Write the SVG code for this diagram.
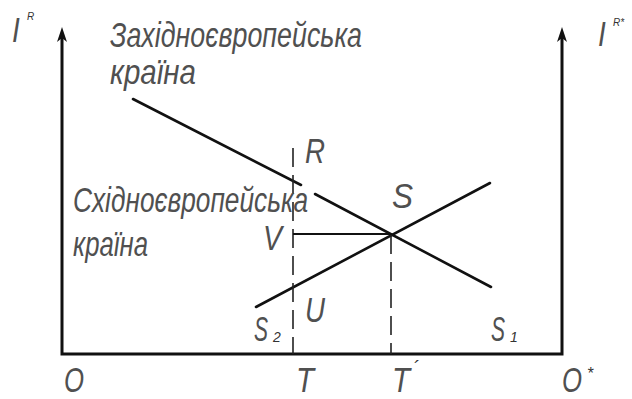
<svg xmlns="http://www.w3.org/2000/svg" width="632" height="399" viewBox="0 0 632 399">
<style>
.t{font-family:"Liberation Sans",Arial,sans-serif;font-style:italic;fill:#505050;font-size:28px;}
.s{font-family:"Liberation Sans",Arial,sans-serif;font-style:italic;fill:#333;}
.ax{stroke:#111;stroke-width:3;fill:none;}
.ln{stroke:#111;stroke-width:2.6;fill:none;stroke-linecap:round;}
.ds{stroke:#222;stroke-width:1.6;fill:none;stroke-dasharray:19 8;}
</style>
<rect width="632" height="399" fill="#fff"/>
<g id="axes">
<path class="ax" d="M62,355 V34 M562,355 V34 M60.5,354 H563.5"/>
<path d="M62,27 L67,42 L62,38 L57,42 Z" fill="#111"/>
<path d="M562,27 L567,42 L562,38 L557,42 Z" fill="#111"/>
</g>
<g id="connectors">
<path class="ln" d="M133,99 L301,185 M315,194 L491,287"/>
<path class="ln" d="M256,307 L490,183"/>
<path class="ds" d="M293,148 V354"/>
<path class="ds" d="M391,235 V354"/>
<path stroke="#111" stroke-width="2" d="M293,234 H390"/>
</g>
<g id="west-label">
<text class="t" transform="translate(110,47) scale(1,1.22)" textLength="252" lengthAdjust="spacingAndGlyphs">Західноєвропейська</text>
<text class="t" transform="translate(110,84) scale(1,1.22)" textLength="86" lengthAdjust="spacingAndGlyphs">країна</text>
</g>
<g id="east-label">
<text class="t" transform="translate(73,212) scale(1,1.22)" textLength="235" lengthAdjust="spacingAndGlyphs">Східноєвропейська</text>
<text class="t" transform="translate(73,256) scale(1,1.22)" textLength="75" lengthAdjust="spacingAndGlyphs">країна</text>
</g>
<g id="points">
<text class="t" transform="translate(305,163) scale(1,1.25)" textLength="20" lengthAdjust="spacingAndGlyphs">R</text>
<text class="t" transform="translate(392,208) scale(1,1.25)" textLength="21" lengthAdjust="spacingAndGlyphs">S</text>
<text class="t" transform="translate(263,250) scale(1,1.25)" textLength="19" lengthAdjust="spacingAndGlyphs">V</text>
<text class="t" transform="translate(305,322) scale(1,1.25)" textLength="20" lengthAdjust="spacingAndGlyphs">U</text>
<text class="t" transform="translate(254,341) scale(1,1.25)" textLength="14" lengthAdjust="spacingAndGlyphs">S</text>
<text class="s" x="273" y="342" font-size="14">2</text>
<text class="t" transform="translate(491,341) scale(1,1.25)" textLength="14" lengthAdjust="spacingAndGlyphs">S</text>
<text class="s" x="510" y="342" font-size="14">1</text>
</g>
<g id="axis-labels">
<text class="t" transform="translate(12,42) scale(1,1.25)">I</text>
<text class="s" x="27" y="20" font-size="10">R</text>
<text class="t" transform="translate(598,46) scale(1,1.25)">I</text>
<text class="s" x="613" y="26" font-size="10">R*</text>
<text class="t" transform="translate(64,392) scale(1,1.25)" textLength="20" lengthAdjust="spacingAndGlyphs">O</text>
<text class="t" transform="translate(296,392) scale(1,1.25)" textLength="18" lengthAdjust="spacingAndGlyphs">T</text>
<text class="t" transform="translate(392,392) scale(1,1.25)" textLength="18" lengthAdjust="spacingAndGlyphs">T</text>
<text class="s" x="413" y="374" font-size="18">´</text>
<text class="t" transform="translate(562,392) scale(1,1.25)" textLength="20" lengthAdjust="spacingAndGlyphs">O</text>
<text class="s" x="587" y="379" font-size="16">*</text>
</g>
</svg>
